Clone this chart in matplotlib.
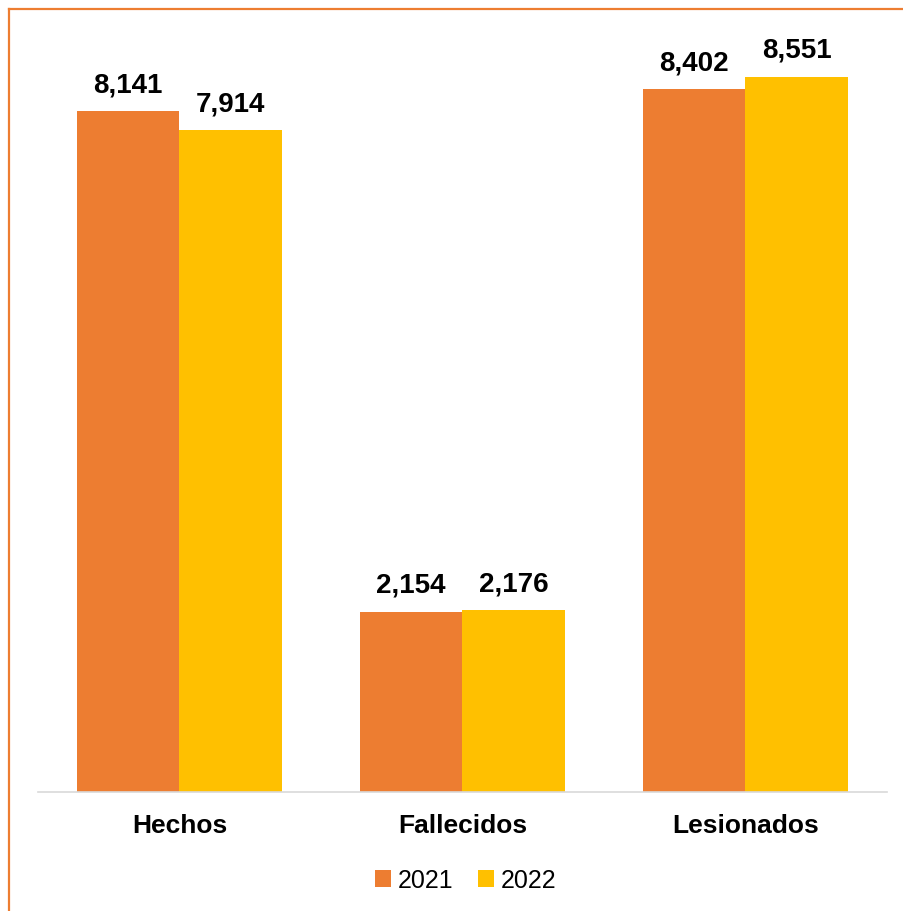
import numpy as np
import matplotlib
matplotlib.use("Agg")
import matplotlib.pyplot as plt
from matplotlib.lines import Line2D

plt.rcParams['font.family'] = ['Liberation Sans', 'DejaVu Sans']

categories = ['Hechos', 'Fallecidos', 'Lesionados']
years = ['2021', '2022']
vals_2021 = [8141, 2154, 8402]
vals_2022 = [7914, 2176, 8551]
colors = ['#ED7D31', '#FFC000']

fig = plt.figure(figsize=(9.04, 9.12), dpi=100)
ax = fig.add_axes([0.042, 0.1305, 0.939, 0.8255])

x = np.arange(len(categories))
w = 0.362
b1 = ax.bar(x - w / 2, vals_2021, w, color=colors[0], label=years[0])
b2 = ax.bar(x + w / 2, vals_2022, w, color=colors[1], label=years[1])

for bars in (b1, b2):
    for r in bars:
        h = r.get_height()
        ax.annotate(f'{h:,.0f}', (r.get_x() + r.get_width() / 2, h),
                    xytext=(0, 10), textcoords='offset points',
                    ha='center', va='bottom', fontsize=20, fontweight='bold')

ax.set_xlim(-0.5, 2.5)
ax.set_ylim(0, 9000)
ax.set_yticks([])
ax.set_xticks(x)
ax.set_xticklabels(categories, fontsize=19, fontweight='bold')
ax.tick_params(axis='x', length=0, pad=15)
for s in ['top', 'right', 'left']:
    ax.spines[s].set_visible(False)
ax.spines['bottom'].set_color('#D9D9D9')
ax.spines['bottom'].set_linewidth(1.2)

fig.legend(loc='center', bbox_to_anchor=(0.515, 0.034), ncol=2, frameon=False,
           fontsize=18, handlelength=0.65, handleheight=0.65,
           handletextpad=0.25, columnspacing=1.0)

# orange frame (only top and left edge visible in the crop)
fig.add_artist(Line2D([9 / 904, 9 / 904], [0, 1 - 10 / 912], color='#ED7D31', lw=1.6,
                      transform=fig.transFigure))
fig.add_artist(Line2D([9 / 904, 1], [1 - 10 / 912, 1 - 10 / 912], color='#ED7D31', lw=1.6,
                      transform=fig.transFigure))

fig.savefig('out.png', dpi=100)
